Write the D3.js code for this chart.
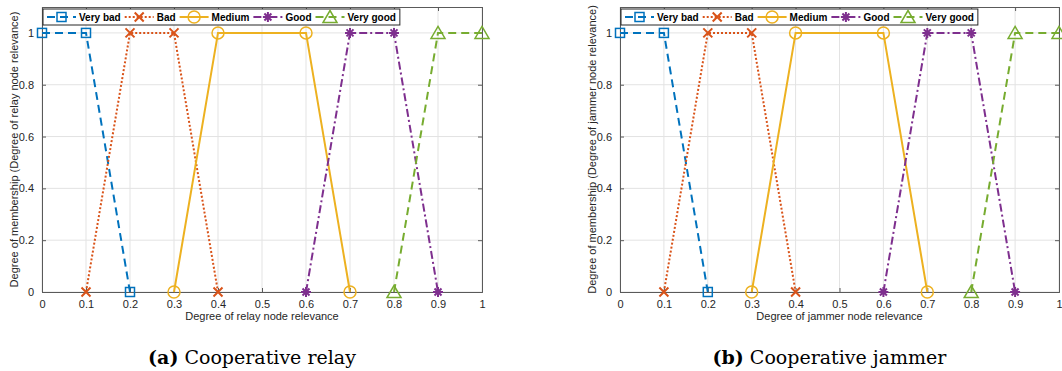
<!DOCTYPE html>
<html>
<head>
<meta charset="utf-8">
<script src="https://cdn.jsdelivr.net/npm/d3@7"></script>
<style>
  body { margin: 0; background: #fff; }
  svg { display: block; }
</style>
</head>
<body>
<svg id="chart" width="1062" height="371"></svg>
<script>
// membership functions (same for both panels)
var seriesNames = ["Very bad", "Bad", "Medium", "Good", "Very good"];
var veryBadX = [0, 0.1, 0.2],        veryBadY = [1, 1, 0];
var badX = [0.1, 0.2, 0.3, 0.4],     badY = [0, 1, 1, 0];
var mediumX = [0.3, 0.4, 0.6, 0.7],  mediumY = [0, 1, 1, 0];
var goodX = [0.6, 0.7, 0.8, 0.9],    goodY = [0, 1, 1, 0];
var veryGoodX = [0.8, 0.9, 1.0],     veryGoodY = [0, 1, 1];

var xTicks = [0, 0.1, 0.2, 0.3, 0.4, 0.5, 0.6, 0.7, 0.8, 0.9, 1];
var yTicks = [0, 0.2, 0.4, 0.6, 0.8, 1];

var panels = [
    { left: 42, right: 482, xLabel: "Degree of relay node relevance",
      yLabel: "Degree of membership (Degree of relay node relevance)",
      tag: "(a)", caption: " Cooperative relay" },
    { left: 620, right: 1059, xLabel: "Degree of jammer node relevance",
      yLabel: "Degree of membership (Degree of jammer node relevance)",
      tag: "(b)", caption: " Cooperative jammer" }
];

var styles = [
    { color: "#0072BD", dash: "8,5",     marker: "square" },
    { color: "#D95319", dash: "2,2",     marker: "x" },
    { color: "#EDB120", dash: null,      marker: "circle" },
    { color: "#7E2F8E", dash: "8,3,2,3", marker: "star" },
    { color: "#77AC30", dash: "8,5",     marker: "triangle" }
];

var allSeries = [
    [veryBadX, veryBadY], [badX, badY], [mediumX, mediumY],
    [goodX, goodY], [veryGoodX, veryGoodY]
];

const svg = d3.select('#chart');
const plotTop = 7, plotBottom = 292;
const font = "'Liberation Sans', Arial, sans-serif";

function drawMarker(g, type, cx, cy, color) {
    let m = g.append('g').attr('transform', `translate(${cx},${cy})`)
        .style('fill', 'none').style('stroke', color).style('stroke-width', 1.5);
    if (type === "square") {
        m.append('rect').attr('x', -4.5).attr('y', -4.5).attr('width', 9).attr('height', 9);
    } else if (type === "circle") {
        m.append('circle').attr('r', 6);
    } else if (type === "x") {
        m.append('path').attr('d', 'M-4.5,-4.5L4.5,4.5M-4.5,4.5L4.5,-4.5').style('stroke-width', 2);
    } else if (type === "triangle") {
        m.append('path').attr('d', 'M0,-6.5L7,5.5L-7,5.5Z');
    } else if (type === "star") {
        m.append('path').attr('d', 'M-5,0L5,0M0,-5L0,5M-3.5,-3.5L3.5,3.5M-3.5,3.5L3.5,-3.5').style('stroke-width', 2);
    }
}

panels.forEach(function(p) {
    const x = d3.scaleLinear().domain([0, 1]).range([p.left, p.right]);
    const y = d3.scaleLinear().domain([0, 1.1]).range([plotBottom, plotTop]);

    let g = svg.append('g');

    // grid
    g.selectAll('.gx').data(xTicks).enter().append('line')
        .attr('x1', d => x(d)).attr('x2', d => x(d))
        .attr('y1', plotTop).attr('y2', plotBottom)
        .style('stroke', '#e3e3e3').style('stroke-width', 1);
    g.selectAll('.gy').data(yTicks).enter().append('line')
        .attr('x1', p.left).attr('x2', p.right)
        .attr('y1', d => y(d)).attr('y2', d => y(d))
        .style('stroke', '#e3e3e3').style('stroke-width', 1);

    // axes box with inward ticks
    const fmt = d => (d === 0 || d === 1) ? String(d) : d3.format(".1f")(d);
    const xAxisB = d3.axisBottom(x).tickValues(xTicks).tickSize(-4).tickPadding(8).tickFormat(fmt);
    const xAxisT = d3.axisTop(x).tickValues(xTicks).tickSize(-4).tickFormat("");
    const yAxisL = d3.axisLeft(y).tickValues(yTicks).tickSize(-4).tickPadding(8).tickFormat(fmt);
    const yAxisR = d3.axisRight(y).tickValues(yTicks).tickSize(-4).tickFormat("");

    [[xAxisB, `translate(0,${plotBottom})`], [xAxisT, `translate(0,${plotTop})`],
     [yAxisL, `translate(${p.left},0)`], [yAxisR, `translate(${p.right},0)`]].forEach(function(a) {
        let ax = g.append('g').attr('transform', a[1]).call(a[0]);
        ax.select('.domain').style('stroke', '#5a5a5a');
        ax.selectAll('.tick line').style('stroke', '#5a5a5a');
        ax.selectAll('text').style('font-family', font).style('font-size', '11px').style('fill', '#262626');
    });

    // series
    allSeries.forEach(function(s, i) {
        const pts = s[0].map((v, k) => [v, s[1][k]]);
        const line = d3.line().x(d => x(d[0])).y(d => y(d[1]));
        g.append('path').datum(pts).attr('d', line)
            .style('fill', 'none').style('stroke', styles[i].color).style('stroke-width', 2)
            .style('stroke-dasharray', styles[i].dash);
        pts.forEach(d => drawMarker(g, styles[i].marker, x(d[0]), y(d[1]), styles[i].color));
    });

    // axis labels
    g.append('text')
        .attr('x', (p.left + p.right) / 2).attr('y', 320)
        .attr('text-anchor', 'middle')
        .style('font-family', font).style('font-size', '11px').style('fill', '#262626')
        .text(p.xLabel);
    g.append('text')
        .attr('transform', `translate(${p.left - 24},${(plotTop + plotBottom) / 2}) rotate(-90)`)
        .attr('text-anchor', 'middle')
        .style('font-family', font).style('font-size', '11px').style('fill', '#262626')
        .text(p.yLabel);

    // legend
    let leg = g.append('g');
    let box = leg.append('rect')
        .attr('x', p.left + 1).attr('y', 9).attr('height', 16)
        .style('fill', '#fff').style('stroke', '#262626').style('stroke-width', 1);
    let cx = p.left + 5;
    seriesNames.forEach(function(name, i) {
        leg.append('line')
            .attr('x1', cx).attr('x2', cx + 29).attr('y1', 17).attr('y2', 17)
            .style('stroke', styles[i].color).style('stroke-width', 2)
            .style('stroke-dasharray', styles[i].dash);
        drawMarker(leg, styles[i].marker, cx + 14.5, 17, styles[i].color);
        let t = leg.append('text')
            .attr('x', cx + 32).attr('y', 20.5)
            .style('font-family', font).style('font-size', '10px').style('font-weight', 'bold')
            .style('fill', '#000')
            .text(name);
        cx += 32 + t.node().getComputedTextLength() + 4;
    });
    box.attr('width', cx - p.left - 1);

    // caption
    let cap = g.append('text')
        .attr('x', (p.left + p.right) / 2 - 10).attr('y', 364)
        .attr('text-anchor', 'middle')
        .style('font-family', "'DejaVu Serif', serif").style('font-size', '19px').style('fill', '#000');
    cap.append('tspan').style('font-weight', 'bold').text(p.tag);
    cap.append('tspan').text(p.caption);
});
</script>
</body>
</html>
